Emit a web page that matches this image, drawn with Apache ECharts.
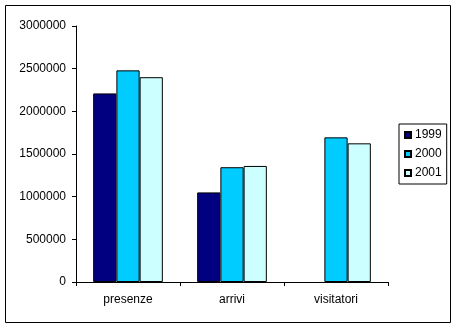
<!DOCTYPE html>
<html><head><meta charset="utf-8">
<script src="https://cdn.jsdelivr.net/npm/echarts@6/dist/echarts.min.js"></script>
<style>html,body{margin:0;padding:0;background:#fff}#c{width:457px;height:328px}</style>
</head><body><div id="c"></div>
<script>
const categories = ['presenze', 'arrivi', 'visitatori'];
const seriesNames = ['1999', '2000', '2001'];
const values1999 = [2210000, 1050000, null];
const values2000 = [2480000, 1345000, 1695000];
const values2001 = [2400000, 1360000, 1625000];
const colors = ['#000080', '#00CCFF', '#CCFFFF'];

const chart = echarts.init(document.getElementById('c'), null, {renderer: 'canvas'});
const font = 'Liberation Sans, Arial, sans-serif';
const data = [values1999, values2000, values2001];
chart.setOption({
  animation: false,
  textStyle: {fontFamily: font},
  graphic: [{type: 'rect', shape: {x: 5.5, y: 5.5, width: 445, height: 317}, style: {fill: 'none', stroke: '#000', lineWidth: 1}, silent: true}],
  grid: {left: 76, top: 26, right: 69, bottom: 46, containLabel: false},
  legend: {
    orient: 'vertical', left: 399, top: 124,
    padding: [5, 5, 5, 5], itemGap: 7, itemWidth: 6, itemHeight: 6,
    borderColor: '#000', borderWidth: 1,
    icon: 'rect',
    textStyle: {fontFamily: font, fontSize: 12, color: '#000', padding: [0,0,0,-1]},
    data: seriesNames
  },
  xAxis: {
    type: 'category', data: categories,
    axisLine: {lineStyle: {color: '#000', width: 1}},
    axisTick: {show: true, length: 4, lineStyle: {color: '#000'}},
    axisLabel: {color: '#000', fontSize: 12, margin: 12, fontFamily: font},
    splitLine: {show: false}
  },
  yAxis: {
    type: 'value', min: 0, max: 3000000, interval: 500000,
    axisLine: {show: true, lineStyle: {color: '#000', width: 1}},
    axisTick: {show: true, length: 4, lineStyle: {color: '#000'}},
    axisLabel: {color: '#000', fontSize: 12, margin: 10, fontFamily: font, formatter: v => String(v)},
    splitLine: {show: false}
  },
  series: seriesNames.map((n, i) => ({
    name: n, type: 'bar', data: data[i],
    barGap: '0%', barCategoryGap: '33%',
    itemStyle: {color: colors[i], borderColor: '#000', borderWidth: 1}
  }))
});
</script></body></html>
